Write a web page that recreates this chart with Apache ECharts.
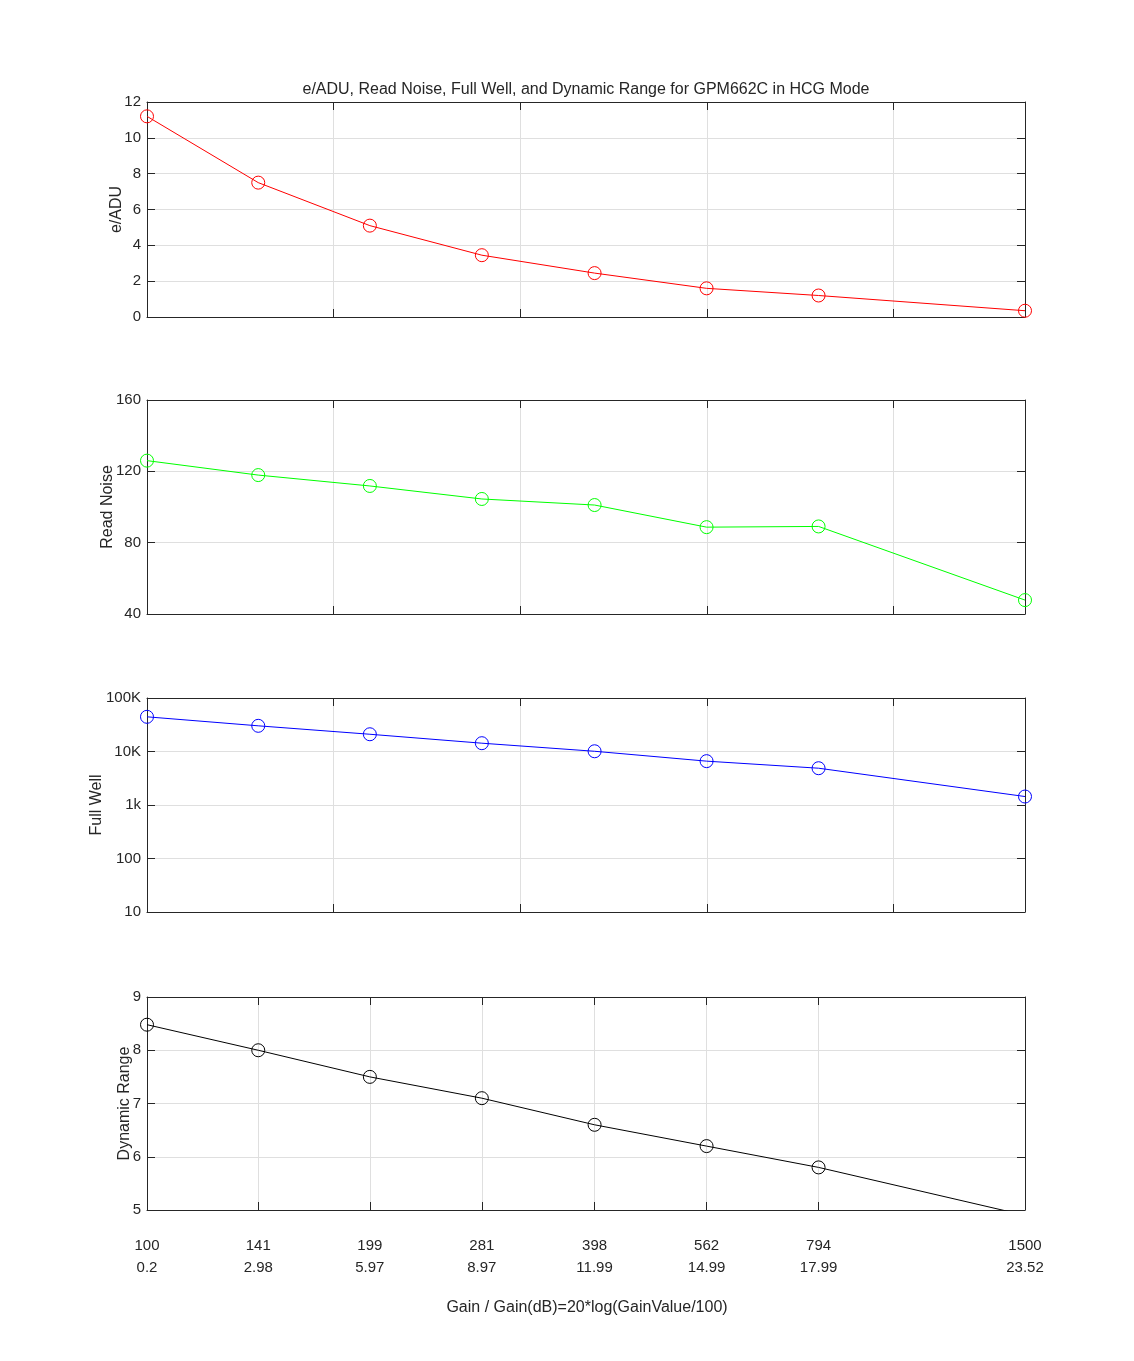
<!DOCTYPE html>
<html>
<head>
<meta charset="utf-8">
<title>GPM662C HCG Mode</title>
<script src="https://cdn.jsdelivr.net/npm/echarts@6/dist/echarts.min.js"></script>
<style>
  html, body { margin: 0; padding: 0; background: #fff; }
  #chart { width: 1134px; height: 1361px; }
</style>
</head>
<body>
<div id="chart"></div>
<script>
// x positions (dB) of the samples, and the two rows of tick labels
const gainDb = [0, 2.98, 5.97, 8.97, 11.99, 14.99, 17.99, 23.52];
const gainLabels = ['100', '141', '199', '281', '398', '562', '794', '1500'];
const dbLabels = ['0.2', '2.98', '5.97', '8.97', '11.99', '14.99', '17.99', '23.52'];

// measured values
const eADU = [11.2, 7.5, 5.1, 3.45, 2.45, 1.6, 1.2, 0.35];
const readNoise = [126, 117.9, 111.8, 104.5, 101.1, 88.7, 89.1, 47.8];
const fullWell = [44500, 30200, 21000, 14300, 10100, 6600, 4870, 1440];
const dynamicRange = [8.48, 8.0, 7.5, 7.1, 6.6, 6.2, 5.8, 4.9];

// log axis labels for full well, indexed by exponent - 1
const fullWellTicks = ['10', '100', '1k', '10K', '100K'];

const FONT = 'Liberation Sans, Arial, Helvetica, sans-serif';
const TEXT = '#262626';
const FRAME = '#262626';
const GRID = '#dfdfdf';

const chart = echarts.init(document.getElementById('chart'));

// plot boxes
const boxes = [
  { top: 102, height: 215 },
  { top: 400, height: 214 },
  { top: 698, height: 214 },
  { top: 997, height: 213 }
];

const panels = [
  { name: 'e/ADU', data: eADU, color: '#ff0000', y: { type: 'value', min: 0, max: 12, interval: 2 }, gap: 22 },
  { name: 'Read Noise', data: readNoise, color: '#00ff00', y: { type: 'value', min: 40, max: 160, interval: 40 }, gap: 31 },
  { name: 'Full Well', data: fullWell, color: '#0000ff', y: { type: 'log', logBase: 10, min: 10, max: 100000 }, gap: 42 },
  { name: 'Dynamic Range', data: dynamicRange, color: '#000000', y: { type: 'value', min: 5, max: 9, interval: 1 }, gap: 14 }
];

const tick = { show: true, inside: true, length: 8, lineStyle: { color: FRAME, width: 1 } };
const line = { show: true, onZero: false, lineStyle: { color: FRAME, width: 1 } };

const grid = [];
const xAxis = [];
const yAxis = [];
const series = [];

panels.forEach((p, i) => {
  const last = i === panels.length - 1;
  grid.push({ left: 147, right: 109, top: boxes[i].top, height: boxes[i].height, containLabel: false });

  // bottom x axis
  const xBottom = {
    type: 'value', gridIndex: i, position: 'bottom', min: 0, max: 23.52,
    axisLine: line,
    splitLine: { show: true, lineStyle: { color: GRID, width: 1 } },
    axisTick: Object.assign({}, tick),
    axisLabel: { show: false }
  };
  // top x axis (ticks only)
  const xTop = {
    type: 'value', gridIndex: i, position: 'top', min: 0, max: 23.52,
    axisLine: line, splitLine: { show: false },
    axisTick: Object.assign({}, tick),
    axisLabel: { show: false }
  };
  if (last) {
    xBottom.axisTick.customValues = gainDb;
    xTop.axisTick.customValues = gainDb;
    xBottom.axisLabel = {
      show: true,
      customValues: gainDb,
      margin: 25,
      color: TEXT,
      fontFamily: FONT,
      fontSize: 15,
      lineHeight: 22,
      formatter: v => {
        const k = gainDb.findIndex(d => Math.abs(d - v) < 1e-6);
        return k < 0 ? '' : gainLabels[k] + '\n' + dbLabels[k];
      }
    };
  } else {
    xBottom.interval = 5;
    xTop.interval = 5;
  }
  xAxis.push(xBottom, xTop);

  const yLeft = Object.assign({}, p.y, {
    gridIndex: i, position: 'left',
    name: p.name, nameLocation: 'middle', nameGap: p.gap, nameRotate: 90,
    nameMoveOverlap: false,
    nameTextStyle: { color: TEXT, fontFamily: FONT, fontSize: 16 },
    axisLine: line,
    axisTick: tick,
    splitLine: { show: true, lineStyle: { color: GRID, width: 1 } },
    axisLabel: {
      color: TEXT, fontFamily: FONT, fontSize: 15, margin: 6,
      formatter: p.y.type === 'log'
        ? v => fullWellTicks[Math.round(Math.log10(v)) - 1] || ''
        : v => String(v)
    }
  });
  const yRight = Object.assign({}, p.y, {
    gridIndex: i, position: 'right',
    axisLine: line, axisTick: tick,
    splitLine: { show: false },
    axisLabel: { show: false }
  });
  yAxis.push(yLeft, yRight);

  series.push({
    type: 'line',
    xAxisIndex: i * 2,
    yAxisIndex: i * 2,
    data: p.data.map((v, k) => [gainDb[k], v]),
    symbol: 'circle',
    symbolSize: 13,
    clip: true,
    lineStyle: { color: p.color, width: 1 },
    itemStyle: { color: 'rgba(0,0,0,0)', borderColor: p.color, borderWidth: 1 },
    emphasis: { disabled: true },
    silent: true,
    animation: false
  });
});

const option = {
  backgroundColor: '#ffffff',
  animation: false,
  grid: grid,
  xAxis: xAxis,
  yAxis: yAxis,
  series: series,
  graphic: [
    {
      type: 'text', x: 586, y: 90,
      style: {
        text: 'e/ADU, Read Noise, Full Well, and Dynamic Range for GPM662C in HCG Mode',
        textAlign: 'center', textVerticalAlign: 'middle',
        fill: TEXT, font: '16px ' + FONT
      }
    },
    {
      type: 'text', x: 587, y: 1308,
      style: {
        text: 'Gain / Gain(dB)=20*log(GainValue/100)',
        textAlign: 'center', textVerticalAlign: 'middle',
        fill: TEXT, font: '16px ' + FONT
      }
    }
  ]
};

chart.setOption(option);
</script>
</body>
</html>
